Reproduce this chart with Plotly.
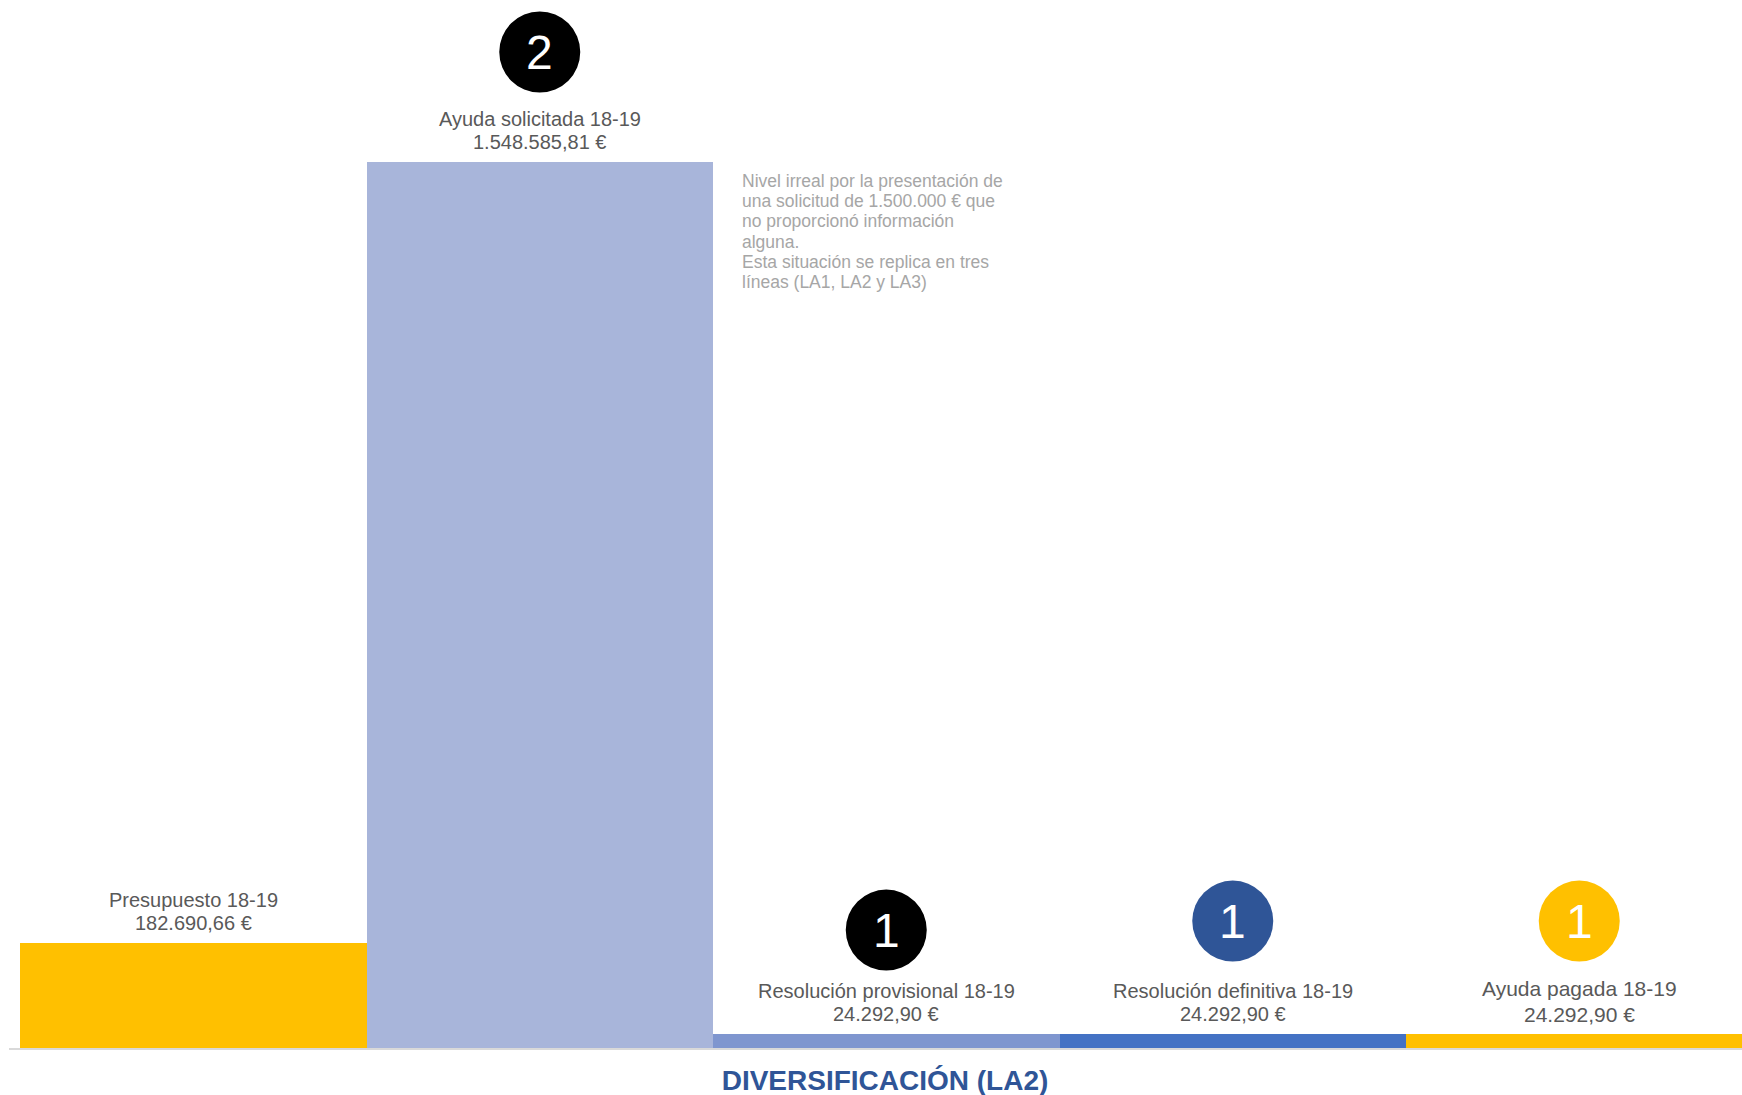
import plotly.graph_objects as go

categories = ["Presupuesto 18-19", "Ayuda solicitada 18-19", "Resolución provisional 18-19",
              "Resolución definitiva 18-19", "Ayuda pagada 18-19"]
values = [182690.66, 1548585.81, 24292.90, 24292.90, 24292.90]
bar_colors = ["#ffc000", "#a8b5da", "#7f96cf", "#4472c4", "#ffc000"]
badge_numbers = [None, "2", "1", "1", "1"]
badge_colors = [None, "#000000", "#000000", "#2f5597", "#ffc000"]
badge_offsets = [None, 110, 104, 113, 113]
note_lines = ["Nivel irreal por la presentación de", "una solicitud de 1.500.000 € que",
              "no proporcionó información", "alguna.", "Esta situación se replica en tres",
              "líneas (LA1, LA2 y LA3)"]
title_text = "DIVERSIFICACIÓN (LA2)"


def fmt_eur(v):
    s = f"{v:,.2f}".replace(",", "X").replace(".", ",").replace("X", ".")
    return s + " €"


W, H = 1742, 1095
L, R, T, B = 9, 0, 0, 47
plot_w = W - L - R
cat_px = 346.5
x_left = -0.5 - (20 - L) / cat_px
x_right = x_left + plot_w / cat_px
y_max = max(values) * (H - T - B) / 886.0

font_main = "Liberation Sans, Arial, sans-serif"

fig = go.Figure()
fig.add_trace(go.Bar(
    x=categories, y=values, width=1,
    marker=dict(color=bar_colors, line=dict(width=0)),
    hoverinfo="skip", showlegend=False,
))

annotations = []
shapes = []
for i, (c, v) in enumerate(zip(categories, values)):
    name_shift = 46 if i == 4 else 43
    fs = 20 if i < 4 else 21
    annotations.append(dict(x=c, y=v, xref="x", yref="y", text=c, showarrow=False,
                            yanchor="middle", yshift=name_shift,
                            font=dict(family=font_main, size=fs, color="#595959")))
    annotations.append(dict(x=c, y=v, xref="x", yref="y", text=fmt_eur(v), showarrow=False,
                            yanchor="middle", yshift=20,
                            font=dict(family=font_main, size=fs, color="#595959")))
    if badge_numbers[i]:
        off = badge_offsets[i]
        r = 40.5
        shapes.append(dict(type="circle", xref="x", yref="y", xsizemode="pixel", ysizemode="pixel",
                           xanchor=c, yanchor=v, x0=-r, x1=r, y0=off - r, y1=off + r,
                           fillcolor=badge_colors[i], line=dict(width=0), layer="above"))
        annotations.append(dict(x=c, y=v, xref="x", yref="y", text=badge_numbers[i], showarrow=False,
                                yanchor="middle", yshift=off,
                                font=dict(family=font_main, size=48, color="#ffffff")))

for k, line in enumerate(note_lines):
    annotations.append(dict(x=1.5, y=values[1], xref="x", yref="y", text=line, showarrow=False,
                            xanchor="left", yanchor="middle", align="left", xshift=27,
                            yshift=-19 - 20.2 * k,
                            font=dict(family=font_main, size=17.5, color="#a6a6a6")))

fig.update_layout(
    width=W, height=H, autosize=False,
    margin=dict(l=L, r=R, t=T, b=B),
    paper_bgcolor="#ffffff", plot_bgcolor="#ffffff",
    bargap=0,
    xaxis=dict(range=[x_left, x_right], showline=True, linecolor="#d9d9d9",
               linewidth=2, showticklabels=False, ticks="", showgrid=False, zeroline=False,
               fixedrange=True),
    yaxis=dict(range=[0, y_max], visible=False, showgrid=False, zeroline=False, fixedrange=True),
    title=dict(text=title_text, x=885 / W, xanchor="center", y=1 - 1080 / H, yanchor="middle",
               xref="container", yref="container",
               font=dict(family="Liberation Sans Narrow, Liberation Sans, Arial, sans-serif",
                         size=28, color="#2f5597", weight="bold")),
    annotations=annotations,
    shapes=shapes,
    showlegend=False,
)

fig.write_html("out.html", config={"displayModeBar": False},
               post_script="document.body.style.margin='0';document.body.style.overflow='hidden';")
